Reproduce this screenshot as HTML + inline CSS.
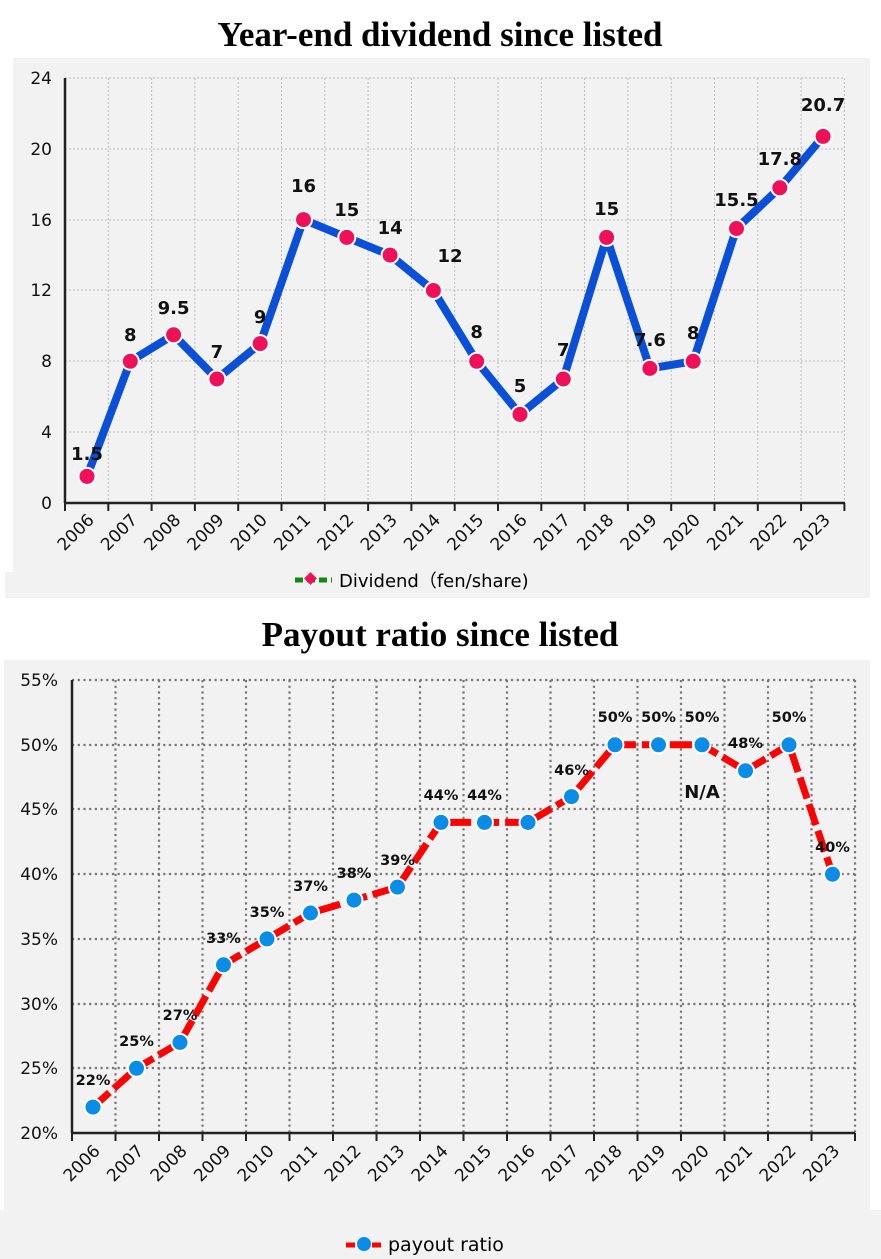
<!DOCTYPE html>
<html><head><meta charset="utf-8"><style>
html,body{margin:0;padding:0;background:#fff;}
svg{display:block;}
.t{font-family:"Liberation Serif",serif;font-weight:bold;font-size:35px;fill:#000;}
.ax{font-family:"DejaVu Sans",sans-serif;font-size:17px;fill:#111;}
.lb{font-family:"DejaVu Sans",sans-serif;font-size:18px;font-weight:bold;fill:#111;}
.lb2{font-family:"DejaVu Sans",sans-serif;font-size:14.5px;font-weight:bold;fill:#111;}
</style></head><body>
<svg width="881" height="1259" viewBox="0 0 881 1259" xmlns="http://www.w3.org/2000/svg">
<rect width="881" height="1259" fill="#fff"/>
<text class="t" x="440" y="46" text-anchor="middle">Year-end dividend since listed</text>
<rect x="13" y="58" width="857" height="515" fill="#f2f2f2"/>
<rect x="5" y="572" width="865" height="26" fill="#f2f2f2"/>
<g stroke="#bbb" stroke-width="1" stroke-dasharray="2,2">
<line x1="65" x2="845" y1="78" y2="78"/><line x1="65" x2="845" y1="149" y2="149"/><line x1="65" x2="845" y1="220" y2="220"/><line x1="65" x2="845" y1="290" y2="290"/><line x1="65" x2="845" y1="361" y2="361"/><line x1="65" x2="845" y1="432" y2="432"/>
<line x1="108.3" x2="108.3" y1="78" y2="503"/><line x1="151.6" x2="151.6" y1="78" y2="503"/><line x1="194.9" x2="194.9" y1="78" y2="503"/><line x1="238.2" x2="238.2" y1="78" y2="503"/><line x1="281.5" x2="281.5" y1="78" y2="503"/><line x1="324.8" x2="324.8" y1="78" y2="503"/><line x1="368.1" x2="368.1" y1="78" y2="503"/><line x1="411.4" x2="411.4" y1="78" y2="503"/><line x1="454.7" x2="454.7" y1="78" y2="503"/><line x1="498" x2="498" y1="78" y2="503"/><line x1="541.3" x2="541.3" y1="78" y2="503"/><line x1="584.6" x2="584.6" y1="78" y2="503"/><line x1="627.9" x2="627.9" y1="78" y2="503"/><line x1="671.2" x2="671.2" y1="78" y2="503"/><line x1="714.5" x2="714.5" y1="78" y2="503"/><line x1="757.8" x2="757.8" y1="78" y2="503"/><line x1="801.1" x2="801.1" y1="78" y2="503"/><line x1="844.4" x2="844.4" y1="78" y2="503"/>
</g>
<g stroke="#222" stroke-width="2.5"><line x1="65" y1="78" x2="65" y2="503"/><line x1="65" y1="503" x2="845" y2="503"/></g>
<g stroke="#222" stroke-width="2">
<line x1="65" x2="65" y1="503" y2="511"/><line x1="108.3" x2="108.3" y1="503" y2="511"/><line x1="151.6" x2="151.6" y1="503" y2="511"/><line x1="194.9" x2="194.9" y1="503" y2="511"/><line x1="238.2" x2="238.2" y1="503" y2="511"/><line x1="281.5" x2="281.5" y1="503" y2="511"/><line x1="324.8" x2="324.8" y1="503" y2="511"/><line x1="368.1" x2="368.1" y1="503" y2="511"/><line x1="411.4" x2="411.4" y1="503" y2="511"/><line x1="454.7" x2="454.7" y1="503" y2="511"/><line x1="498" x2="498" y1="503" y2="511"/><line x1="541.3" x2="541.3" y1="503" y2="511"/><line x1="584.6" x2="584.6" y1="503" y2="511"/><line x1="627.9" x2="627.9" y1="503" y2="511"/><line x1="671.2" x2="671.2" y1="503" y2="511"/><line x1="714.5" x2="714.5" y1="503" y2="511"/><line x1="757.8" x2="757.8" y1="503" y2="511"/><line x1="801.1" x2="801.1" y1="503" y2="511"/><line x1="844.4" x2="844.4" y1="503" y2="511"/>
</g>
<g class="ax" text-anchor="end">
<text x="52" y="84">24</text><text x="52" y="155">20</text><text x="52" y="226">16</text><text x="52" y="296">12</text><text x="52" y="367">8</text><text x="52" y="438">4</text><text x="52" y="509">0</text>
</g>
<g class="ax" text-anchor="end">
<text transform="translate(95,521) rotate(-45)">2006</text><text transform="translate(138.3,521) rotate(-45)">2007</text><text transform="translate(181.6,521) rotate(-45)">2008</text><text transform="translate(224.9,521) rotate(-45)">2009</text><text transform="translate(268.2,521) rotate(-45)">2010</text><text transform="translate(311.5,521) rotate(-45)">2011</text><text transform="translate(354.8,521) rotate(-45)">2012</text><text transform="translate(398.1,521) rotate(-45)">2013</text><text transform="translate(441.4,521) rotate(-45)">2014</text><text transform="translate(484.7,521) rotate(-45)">2015</text><text transform="translate(528,521) rotate(-45)">2016</text><text transform="translate(571.3,521) rotate(-45)">2017</text><text transform="translate(614.6,521) rotate(-45)">2018</text><text transform="translate(657.9,521) rotate(-45)">2019</text><text transform="translate(701.2,521) rotate(-45)">2020</text><text transform="translate(744.5,521) rotate(-45)">2021</text><text transform="translate(787.8,521) rotate(-45)">2022</text><text transform="translate(831.1,521) rotate(-45)">2023</text>
</g>
<polyline fill="none" stroke="#0a4fd8" stroke-width="8" stroke-linejoin="round" points="87,476.4 130.3,361.3 173.6,334.8 216.9,379 260.2,343.6 303.5,219.6 346.8,237.4 390.1,255.1 433.4,290.5 476.7,361.3 520,414.4 563.3,379 606.6,237.4 649.9,368.4 693.2,361.3 736.5,228.5 779.8,187.8 823.1,136.4"/>
<g fill="#f0105a" stroke="#fff" stroke-width="2">
<circle cx="87" cy="476.4" r="8.5"/><circle cx="130.3" cy="361.3" r="8.5"/><circle cx="173.6" cy="334.8" r="8.5"/><circle cx="216.9" cy="379" r="8.5"/><circle cx="260.2" cy="343.6" r="8.5"/><circle cx="303.5" cy="219.6" r="8.5"/><circle cx="346.8" cy="237.4" r="8.5"/><circle cx="390.1" cy="255.1" r="8.5"/><circle cx="433.4" cy="290.5" r="8.5"/><circle cx="476.7" cy="361.3" r="8.5"/><circle cx="520" cy="414.4" r="8.5"/><circle cx="563.3" cy="379" r="8.5"/><circle cx="606.6" cy="237.4" r="8.5"/><circle cx="649.9" cy="368.4" r="8.5"/><circle cx="693.2" cy="361.3" r="8.5"/><circle cx="736.5" cy="228.5" r="8.5"/><circle cx="779.8" cy="187.8" r="8.5"/><circle cx="823.1" cy="136.4" r="8.5"/>
</g>
<g class="lb" text-anchor="middle">
<text x="87" y="460">1.5</text><text x="130.3" y="341">8</text><text x="173.6" y="314">9.5</text><text x="216.9" y="358">7</text><text x="260.2" y="323">9</text><text x="303.5" y="192">16</text><text x="346.8" y="216">15</text><text x="390.1" y="234">14</text><text x="450" y="262">12</text><text x="476.7" y="338">8</text><text x="520" y="392">5</text><text x="563.3" y="356">7</text><text x="606.6" y="215">15</text><text x="649.9" y="346">7.6</text><text x="693.2" y="339">8</text><text x="736.5" y="206">15.5</text><text x="779.8" y="165">17.8</text><text x="823.1" y="111">20.7</text>
</g>
<line x1="295" y1="580" x2="332" y2="580" stroke="#118811" stroke-width="5" stroke-dasharray="8,4"/>
<rect x="306" y="574" width="9" height="9" fill="#f0105a" transform="rotate(45 310.5 578.5)"/>
<text x="339" y="587" style="font-family:'DejaVu Sans',sans-serif;font-size:18px;fill:#000">Dividend（fen/share)</text>

<text class="t" x="440" y="646" text-anchor="middle">Payout ratio since listed</text>
<rect x="4" y="660" width="866" height="550" fill="#f2f2f2"/>
<rect x="0" y="1210" width="881" height="49" fill="#f2f2f2"/>
<g stroke="#777" stroke-width="2.2" stroke-dasharray="2.2,3.5">
<line x1="72" x2="855" y1="680" y2="680"/><line x1="72" x2="855" y1="745" y2="745"/><line x1="72" x2="855" y1="809" y2="809"/><line x1="72" x2="855" y1="874" y2="874"/><line x1="72" x2="855" y1="939" y2="939"/><line x1="72" x2="855" y1="1004" y2="1004"/><line x1="72" x2="855" y1="1068" y2="1068"/>
<line x1="115.5" x2="115.5" y1="680" y2="1133"/><line x1="159" x2="159" y1="680" y2="1133"/><line x1="202.5" x2="202.5" y1="680" y2="1133"/><line x1="246" x2="246" y1="680" y2="1133"/><line x1="289.5" x2="289.5" y1="680" y2="1133"/><line x1="333" x2="333" y1="680" y2="1133"/><line x1="376.5" x2="376.5" y1="680" y2="1133"/><line x1="420" x2="420" y1="680" y2="1133"/><line x1="463.5" x2="463.5" y1="680" y2="1133"/><line x1="507" x2="507" y1="680" y2="1133"/><line x1="550.5" x2="550.5" y1="680" y2="1133"/><line x1="594" x2="594" y1="680" y2="1133"/><line x1="637.5" x2="637.5" y1="680" y2="1133"/><line x1="681" x2="681" y1="680" y2="1133"/><line x1="724.5" x2="724.5" y1="680" y2="1133"/><line x1="768" x2="768" y1="680" y2="1133"/><line x1="811.5" x2="811.5" y1="680" y2="1133"/><line x1="855" x2="855" y1="680" y2="1133"/>
</g>
<g stroke="#222" stroke-width="2.5"><line x1="72" y1="680" x2="72" y2="1133"/><line x1="72" y1="1133" x2="855" y2="1133"/></g>
<g stroke="#222" stroke-width="2">
<line x1="72" x2="72" y1="1133" y2="1141"/><line x1="115.5" x2="115.5" y1="1133" y2="1141"/><line x1="159" x2="159" y1="1133" y2="1141"/><line x1="202.5" x2="202.5" y1="1133" y2="1141"/><line x1="246" x2="246" y1="1133" y2="1141"/><line x1="289.5" x2="289.5" y1="1133" y2="1141"/><line x1="333" x2="333" y1="1133" y2="1141"/><line x1="376.5" x2="376.5" y1="1133" y2="1141"/><line x1="420" x2="420" y1="1133" y2="1141"/><line x1="463.5" x2="463.5" y1="1133" y2="1141"/><line x1="507" x2="507" y1="1133" y2="1141"/><line x1="550.5" x2="550.5" y1="1133" y2="1141"/><line x1="594" x2="594" y1="1133" y2="1141"/><line x1="637.5" x2="637.5" y1="1133" y2="1141"/><line x1="681" x2="681" y1="1133" y2="1141"/><line x1="724.5" x2="724.5" y1="1133" y2="1141"/><line x1="768" x2="768" y1="1133" y2="1141"/><line x1="811.5" x2="811.5" y1="1133" y2="1141"/><line x1="855" x2="855" y1="1133" y2="1141"/>
</g>
<g class="ax" text-anchor="end">
<text x="58" y="686">55%</text><text x="58" y="751">50%</text><text x="58" y="815">45%</text><text x="58" y="880">40%</text><text x="58" y="945">35%</text><text x="58" y="1010">30%</text><text x="58" y="1074">25%</text><text x="58" y="1139">20%</text>
</g>
<g class="ax" text-anchor="end">
<text transform="translate(101,1152) rotate(-45)">2006</text><text transform="translate(144.5,1152) rotate(-45)">2007</text><text transform="translate(188,1152) rotate(-45)">2008</text><text transform="translate(231.5,1152) rotate(-45)">2009</text><text transform="translate(275,1152) rotate(-45)">2010</text><text transform="translate(318.5,1152) rotate(-45)">2011</text><text transform="translate(362,1152) rotate(-45)">2012</text><text transform="translate(405.5,1152) rotate(-45)">2013</text><text transform="translate(449,1152) rotate(-45)">2014</text><text transform="translate(492.5,1152) rotate(-45)">2015</text><text transform="translate(536,1152) rotate(-45)">2016</text><text transform="translate(579.5,1152) rotate(-45)">2017</text><text transform="translate(623,1152) rotate(-45)">2018</text><text transform="translate(666.5,1152) rotate(-45)">2019</text><text transform="translate(710,1152) rotate(-45)">2020</text><text transform="translate(753.5,1152) rotate(-45)">2021</text><text transform="translate(797,1152) rotate(-45)">2022</text><text transform="translate(840.5,1152) rotate(-45)">2023</text>
</g>
<polyline fill="none" stroke="#ff0000" stroke-width="7" stroke-dasharray="22,6" points="93,1107.1 136.5,1068.3 180,1042.4 223.5,964.8 267,938.9 310.5,913 354,900.1 397.5,887.1 441,822.4 484.5,822.4 528,822.4 571.5,796.6 615,744.8 658.5,744.8 702,744.8 745.5,770.7 789,744.8 832.5,874.2"/>
<g fill="#0a8de8" stroke="#fff" stroke-width="2">
<circle cx="93" cy="1107.1" r="8.5"/><circle cx="136.5" cy="1068.3" r="8.5"/><circle cx="180" cy="1042.4" r="8.5"/><circle cx="223.5" cy="964.8" r="8.5"/><circle cx="267" cy="938.9" r="8.5"/><circle cx="310.5" cy="913" r="8.5"/><circle cx="354" cy="900.1" r="8.5"/><circle cx="397.5" cy="887.1" r="8.5"/><circle cx="441" cy="822.4" r="8.5"/><circle cx="484.5" cy="822.4" r="8.5"/><circle cx="528" cy="822.4" r="8.5"/><circle cx="571.5" cy="796.6" r="8.5"/><circle cx="615" cy="744.8" r="8.5"/><circle cx="658.5" cy="744.8" r="8.5"/><circle cx="702" cy="744.8" r="8.5"/><circle cx="745.5" cy="770.7" r="8.5"/><circle cx="789" cy="744.8" r="8.5"/><circle cx="832.5" cy="874.2" r="8.5"/>
</g>
<g class="lb2" text-anchor="middle">
<text x="93" y="1085">22%</text><text x="136.5" y="1046">25%</text><text x="180" y="1020">27%</text><text x="223.5" y="943">33%</text><text x="267" y="917">35%</text><text x="310.5" y="891">37%</text><text x="354" y="878">38%</text><text x="397.5" y="865">39%</text><text x="441" y="800">44%</text><text x="484.5" y="800">44%</text><text x="571.5" y="775">46%</text><text x="615" y="722">50%</text><text x="658.5" y="722">50%</text><text x="702" y="722">50%</text><text x="745.5" y="748">48%</text><text x="789" y="722">50%</text><text x="832.5" y="852">40%</text>
</g>
<text x="702" y="798" text-anchor="middle" style="font-family:'DejaVu Sans',sans-serif;font-size:18px;font-weight:bold;fill:#111">N/A</text>
<line x1="346" y1="1245" x2="382" y2="1245" stroke="#ff0000" stroke-width="5" stroke-dasharray="9,4"/>
<circle cx="364" cy="1244" r="7" fill="#0a8de8"/>
<text x="388" y="1251" style="font-family:'DejaVu Sans',sans-serif;font-size:19px;fill:#000">payout ratio</text>
</svg>
</body></html>
